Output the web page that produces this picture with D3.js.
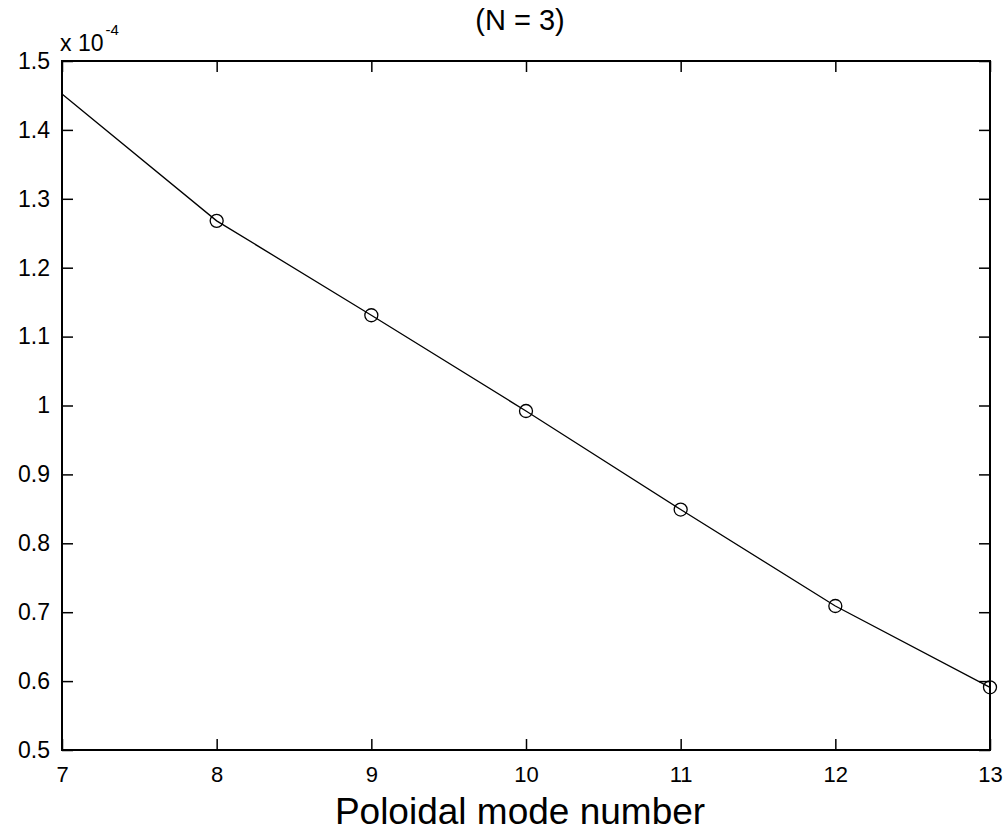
<!DOCTYPE html>
<html>
<head>
<meta charset="utf-8">
<script src="https://cdn.jsdelivr.net/npm/d3@7"></script>
<style>
  body { margin: 0; background: #fff; }
  text { font-family: "Liberation Sans", Arial, sans-serif; fill: #000; }
</style>
</head>
<body>
<div id="chart"></div>
<script>
// data (values in units of 1e-4)
const modeNumbers = [7, 8, 9, 10, 11, 12, 13];
const values = [1.452, 1.268, 1.131, 0.992, 0.849, 0.709, 0.591];
const markerModes = [8, 9, 10, 11, 12, 13];
const xTicks = [7, 8, 9, 10, 11, 12, 13];
const yTicks = [0.5, 0.6, 0.7, 0.8, 0.9, 1, 1.1, 1.2, 1.3, 1.4, 1.5];

const width = 1005, height = 834;
const margin = {top: 61, right: 15, bottom: 84, left: 62};

const svg = d3.select("#chart").append("svg")
    .attr("width", width)
    .attr("height", height);

const x = d3.scaleLinear().domain([7, 13]).range([margin.left, width - margin.right]);
const y = d3.scaleLinear().domain([0.5, 1.5]).range([height - margin.bottom, margin.top]);

const tickLen = 11;

// box
svg.append("rect")
    .attr("x", x(7)).attr("y", y(1.5))
    .attr("width", x(13) - x(7)).attr("height", y(0.5) - y(1.5))
    .attr("fill", "none").attr("stroke", "#000").attr("stroke-width", 2);

// x axis bottom + top ticks
svg.append("g")
    .attr("transform", `translate(0,${y(0.5)})`)
    .call(d3.axisBottom(x).tickValues(xTicks).tickSize(-tickLen).tickPadding(tickLen + 5).tickFormat(d3.format("d")))
    .call(g => g.select(".domain").remove())
    .call(g => g.selectAll(".tick line").attr("stroke-width", 1.5))
    .call(g => g.selectAll("text").style("font-size", "22px"));

svg.append("g")
    .attr("transform", `translate(0,${y(1.5)})`)
    .call(d3.axisTop(x).tickValues(xTicks).tickSize(-tickLen).tickFormat(""))
    .call(g => g.select(".domain").remove())
    .call(g => g.selectAll(".tick line").attr("stroke-width", 1.5));

// y axis left + right ticks
svg.append("g")
    .attr("transform", `translate(${x(7)},0)`)
    .call(d3.axisLeft(y).tickValues(yTicks).tickSize(-tickLen).tickPadding(tickLen + 1).tickFormat(d => d === 1 ? "1" : d3.format(".1f")(d)))
    .call(g => g.select(".domain").remove())
    .call(g => g.selectAll(".tick line").attr("stroke-width", 1.5))
    .call(g => g.selectAll("text").style("font-size", "23px"));

svg.append("g")
    .attr("transform", `translate(${x(13)},0)`)
    .call(d3.axisRight(y).tickValues(yTicks).tickSize(-tickLen).tickFormat(""))
    .call(g => g.select(".domain").remove())
    .call(g => g.selectAll(".tick line").attr("stroke-width", 1.5));

// exponent label
const expo = svg.append("text")
    .attr("x", x(7) - 2)
    .attr("y", y(1.5) - 10)
    .style("font-size", "23px");
expo.append("tspan").text("x 10");
expo.append("tspan").attr("dx", 2).attr("dy", -16).style("font-size", "15px").text("-4");

// curve
const pts = modeNumbers.map((m, i) => [m, values[i]]);
const line = d3.line()
    .x(d => x(d[0]))
    .y(d => y(d[1]));

svg.append("path")
    .datum(pts)
    .attr("fill", "none")
    .attr("stroke", "#000")
    .attr("stroke-width", 1.3)
    .attr("d", line);

// markers
svg.append("g")
    .selectAll("circle")
    .data(pts.filter(d => markerModes.includes(d[0])))
    .join("circle")
    .attr("cx", d => x(d[0]))
    .attr("cy", d => y(d[1]))
    .attr("r", 6.5)
    .attr("fill", "none")
    .attr("stroke", "#000")
    .attr("stroke-width", 1.3);

// title
svg.append("text")
    .attr("x", (x(7) + x(13)) / 2 - 6)
    .attr("y", 30)
    .attr("text-anchor", "middle")
    .style("font-size", "29px")
    .text("(N = 3)");

// x label
svg.append("text")
    .attr("x", (x(7) + x(13)) / 2 - 6)
    .attr("y", 824)
    .attr("text-anchor", "middle")
    .style("font-size", "37px")
    .text("Poloidal mode number");
</script>
</body>
</html>
